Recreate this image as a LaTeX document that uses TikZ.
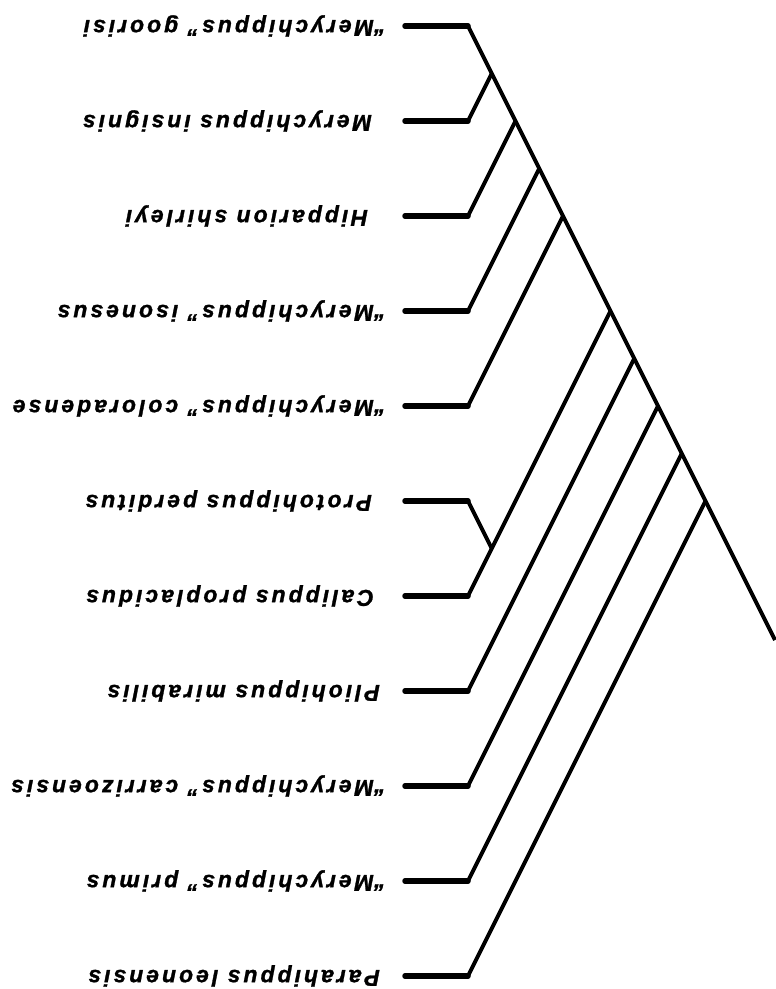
\documentclass[tikz,border=0pt]{standalone}
\usepackage{fontspec}
\setmainfont{Liberation Sans}
\newfontfamily\taxonfont{Liberation Sans}[LetterSpace=13, BoldItalicFeatures={FakeBold=1.2}]
\begin{document}
\begin{tikzpicture}[
        x=1pt, y=-1pt,
        taxon/.style={rotate=180, anchor=base west, inner sep=0pt, font=\fontsize{23}{27}\taxonfont\bfseries\itshape},
        stub/.style={line width=5.5pt, line cap=round},
        branch/.style={line width=4pt}
    ]
        \useasboundingbox (0,0) rectangle (776,989);

        % taxa, printed upside down (baseline sits above the stub)
        \node[taxon] (goorisi) at (374,20) {\llap{“}Merychippus” goorisi};
        \node[taxon] (insignis) at (372,115) {Merychippus insignis};
        \node[taxon] (shirleyi) at (368,210) {Hipparion shirleyi};
        \node[taxon] (isonesus) at (374,305) {\llap{“}Merychippus” isonesus};
        \node[taxon] (coloradense) at (374,400) {\llap{“}Merychippus” coloradense};
        \node[taxon] (perditus) at (372,495) {Protohippus perditus};
        \node[taxon] (proplacidus) at (374,590) {Calippus proplacidus};
        \node[taxon] (mirabilis) at (380,685) {Pliohippus mirabilis};
        \node[taxon] (carrizoensis) at (374,780) {\llap{“}Merychippus” carrizoensis};
        \node[taxon] (primus) at (374,875) {\llap{“}Merychippus” primus};
        \node[taxon] (leonensis) at (380,970) {Parahippus leonensis};

        % branch points
        \coordinate (n1) at (491.75,73.5);
        \coordinate (n2) at (515.5,121);
        \coordinate (n3) at (539.25,168.5);
        \coordinate (n4) at (563,216);
        \coordinate (n5) at (610.5,311);
        \coordinate (nc) at (491.75,548.5);
        \coordinate (n6) at (634.25,358.5);
        \coordinate (n7) at (658,406);
        \coordinate (n8) at (681.75,453.5);
        \coordinate (n9) at (705.5,501);
        \coordinate (root) at (775,640);

        % stubs
        \foreach \t/\y in {goorisi/26, insignis/121, shirleyi/216, isonesus/311, coloradense/406,
                perditus/501, proplacidus/596, mirabilis/691, carrizoensis/786, primus/881, leonensis/976}{
            \coordinate (\t-s) at (405,\y);
            \coordinate (\t-e) at (468,\y);
            \draw[stub] (\t-s) -- (\t-e);
        }

        \draw[branch] (goorisi-e) -- (n1) -- (n2) -- (n3) -- (n4) -- (n5) -- (n6) -- (n7) -- (n8) -- (n9) -- (root);
        \draw[branch] (insignis-e) -- (n1);
        \draw[branch] (shirleyi-e) -- (n2);
        \draw[branch] (isonesus-e) -- (n3);
        \draw[branch] (coloradense-e) -- (n4);
        \draw[branch] (perditus-e) -- (nc);
        \draw[branch] (proplacidus-e) -- (nc) -- (n5);
        \draw[branch] (mirabilis-e) -- (n6);
        \draw[branch] (carrizoensis-e) -- (n7);
        \draw[branch] (primus-e) -- (n8);
        \draw[branch] (leonensis-e) -- (n9);
    \end{tikzpicture}
\end{document}
